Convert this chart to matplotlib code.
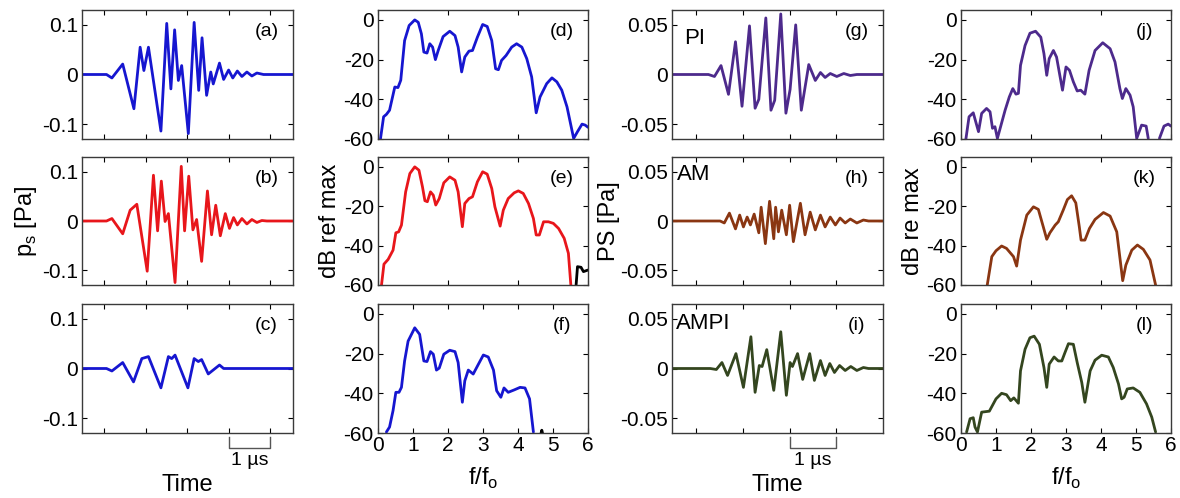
import numpy as np
import matplotlib.pyplot as plt
from matplotlib.transforms import blended_transform_factory

plt.rcParams['font.family'] = ['Liberation Sans', 'DejaVu Sans']
plt.rcParams['mathtext.fontset'] = 'custom'
plt.rcParams['mathtext.rm'] = 'Liberation Sans'

# ---- time traces, left column (p_s, Pa vs time in us) ----
t_a = [-0.53, 0.06, 0.19, 0.45, 0.72, 0.87, 0.96, 1.07, 1.37, 1.51, 1.61, 1.70, 1.79, 1.87, 2.03, 2.17,
       2.28, 2.36, 2.47, 2.57, 2.63, 2.78, 2.88, 3.00, 3.10, 3.21, 3.32, 3.44, 3.56, 3.68, 3.84, 4.55]
p_a = [0, 0, -0.007, 0.021, -0.069, 0.055, 0.008, 0.055, -0.114, 0.103, -0.029, 0.090, -0.012, 0.018, -0.119, 0.105,
       -0.032, 0.074, -0.042, 0.005, -0.019, 0.023, -0.010, 0.009, -0.007, 0.007, -0.004, 0.005, -0.003, 0.003, 0, 0]

t_b = [-0.53, 0.06, 0.19, 0.45, 0.63, 0.79, 1.04, 1.19, 1.29, 1.38, 1.47, 1.55, 1.71, 1.86, 1.94, 2.04, 2.14,
       2.23, 2.35, 2.49, 2.59, 2.69, 2.80, 2.92, 3.02, 3.12, 3.21, 3.32, 3.44, 3.56, 3.68, 3.80, 3.92, 4.55]
p_b = [0, 0, 0.005, -0.026, 0.022, 0.034, -0.102, 0.093, -0.020, 0.081, -0.001, 0.015, -0.125, 0.111, -0.020, 0.091, -0.018,
       0.003, -0.082, 0.061, -0.028, 0.032, -0.030, 0.015, -0.015, 0.007, -0.008, 0.005, -0.006, 0.003, -0.003, 0.001, 0, 0]

t_c = [-0.53, 0.06, 0.19, 0.45, 0.71, 0.91, 1.07, 1.37, 1.55, 1.63, 1.71, 2.02, 2.17, 2.27, 2.35, 2.51, 2.78, 2.88, 4.55]
p_c = [0, 0, -0.005, 0.012, -0.027, 0.020, 0.024, -0.039, 0.024, 0.020, 0.027, -0.039, 0.020, 0.014, 0.018, -0.011, 0.007, 0, 0]

# ---- time traces, third column (PS, Pa) ----
t_g = [-0.52, 0.26, 0.39, 0.53, 0.69, 0.84, 0.98, 1.14, 1.26, 1.34, 1.49, 1.60, 1.68, 1.81, 1.92, 2.01, 2.13,
       2.25, 2.41, 2.55, 2.66, 2.76, 2.87, 3.01, 3.16, 3.30, 3.44, 4.0]
p_g = [0, 0, -0.002, 0.009, -0.020, 0.033, -0.032, 0.049, -0.034, -0.025, 0.057, -0.036, -0.026, 0.061, -0.039, -0.015, 0.050,
       -0.036, 0.010, -0.006, 0.002, -0.003, 0.001, -0.002, 0.001, -0.001, 0, 0]

t_h = [-0.52, 0.51, 0.60, 0.71, 0.84, 0.93, 1.01, 1.09, 1.16, 1.24, 1.34, 1.39, 1.48, 1.57, 1.66, 1.70, 1.76, 1.83,
       1.93, 2.00, 2.08, 2.23, 2.33, 2.44, 2.55, 2.66, 2.76, 2.87, 2.98, 3.08, 3.19, 3.30, 3.44, 3.58, 3.69, 4.0]
p_h = [0, 0, -0.002, 0.008, -0.008, 0.006, -0.006, 0.004, -0.004, 0.007, -0.012, 0.014, -0.023, 0.020, -0.018, 0.014, -0.011, 0.011,
       -0.014, 0.016, -0.021, 0.018, -0.014, 0.009, -0.009, 0.006, -0.006, 0.004, -0.004, 0.003, -0.002, 0.002, -0.002, 0.001, 0, 0]

t_i = [-0.52, 0.30, 0.43, 0.55, 0.67, 0.85, 1.01, 1.17, 1.26, 1.35, 1.41, 1.51, 1.66, 1.81, 1.93, 2.01, 2.06, 2.17,
       2.28, 2.43, 2.53, 2.66, 2.76, 2.86, 2.96, 3.07, 3.19, 3.31, 3.44, 3.58, 3.69, 4.0]
p_i = [0, 0, -0.001, 0.006, -0.007, 0.015, -0.019, 0.032, -0.024, 0.003, 0.002, 0.019, -0.022, 0.037, -0.027, 0.006, 0.002, 0.015,
       -0.011, 0.015, -0.012, 0.008, -0.007, 0.005, -0.004, 0.003, -0.002, 0.002, -0.002, 0.001, 0, 0]

# ---- spectra, second column (dB ref max vs f/fo) ----
f_d = [0.07, 0.16, 0.24, 0.33, 0.48, 0.57, 0.65, 0.76, 0.89, 1.05, 1.15, 1.24, 1.31, 1.40, 1.48, 1.56, 1.64, 1.72,
       1.86, 2.05, 2.20, 2.29, 2.39, 2.48, 2.60, 2.70, 2.84, 2.99, 3.12, 3.25, 3.36, 3.44, 3.53, 3.66, 3.82, 3.96,
       4.11, 4.25, 4.39, 4.52, 4.63, 4.82, 4.97, 5.11, 5.25, 5.40, 5.59, 5.70, 5.83, 5.92, 6.0]
db_d = [-60, -48.8, -47.6, -45.5, -33.8, -34.1, -30.4, -10.4, -2.8, 0, -1.2, -7, -16.2, -16.7, -12, -13.7, -20, -15.4,
        -8.4, -5.7, -7.9, -13.7, -26.2, -18.7, -15.7, -15.4, -8.7, -2.3, -3.3, -10.4, -24.6, -25.1, -20.4, -17.9, -13.7, -12,
        -13.7, -19.5, -28.7, -46.8, -38.8, -32.1, -29.2, -31.2, -35.4, -43.8, -59.7, -56.3, -52.5, -53, -54.1]

f_e = [0.10, 0.17, 0.29, 0.43, 0.51, 0.59, 0.67, 0.79, 0.91, 1.05, 1.17, 1.27, 1.34, 1.41, 1.50, 1.58, 1.65, 1.75,
       1.88, 2.05, 2.20, 2.29, 2.41, 2.48, 2.60, 2.70, 2.84, 2.99, 3.12, 3.25, 3.34, 3.49, 3.58, 3.72, 3.89, 4.01,
       4.15, 4.30, 4.44, 4.52, 4.61, 4.73, 4.87, 5.01, 5.16, 5.32, 5.44, 5.51]
db_e = [-60, -49.4, -47, -42.3, -33.5, -33, -29.6, -12.7, -3.4, 0, -1.7, -10.1, -17.2, -17.7, -12.7, -14.4, -19.4, -16.1,
        -8.1, -5.1, -6.8, -12.7, -30.4, -18.6, -16.1, -15.2, -7.6, -2.5, -3.7, -11, -20.3, -30.1, -22, -16.1, -13.2, -12.2,
        -13.5, -18.6, -26.2, -34.6, -34.6, -27.9, -27.9, -28.7, -31.3, -36.3, -43.9, -60]
f_e_tail = [5.66, 5.70, 5.80, 5.87, 6.0]
db_e_tail = [-60, -50.7, -51, -53.2, -52.4]

f_f = [0.24, 0.33, 0.43, 0.51, 0.60, 0.67, 0.76, 0.86, 1.05, 1.19, 1.31, 1.40, 1.50, 1.58, 1.67, 1.75, 1.88, 2.05,
       2.20, 2.29, 2.41, 2.48, 2.58, 2.72, 2.87, 3.01, 3.15, 3.30, 3.39, 3.51, 3.60, 3.72, 3.89, 4.06, 4.20, 4.33, 4.44]
db_f = [-59.5, -57, -48.7, -39.5, -39.5, -37, -23.7, -13.7, -7, -10.3, -23.7, -24, -19, -20.3, -28.3, -27.3, -20.3, -18.3,
        -19, -24.5, -44.5, -33.7, -28.3, -30.3, -25.3, -20.7, -21.7, -28.3, -38.7, -42, -37.3, -39.5, -38.3, -37, -37.3, -42.8, -59.5]
f_f_tail = [4.66, 4.68, 4.70]
db_f_tail = [-60, -58.6, -60]

# ---- spectra, fourth column (dB re max vs f/fo) ----
f_j = [0.14, 0.23, 0.35, 0.50, 0.59, 0.73, 0.83, 0.90, 0.97, 1.04, 1.26, 1.38, 1.48, 1.57, 1.64, 1.70, 1.83, 1.97,
       2.13, 2.28, 2.37, 2.45, 2.52, 2.64, 2.73, 2.90, 3.00, 3.10, 3.21, 3.32, 3.42, 3.54, 3.66, 3.83, 4.05, 4.26,
       4.40, 4.54, 4.61, 4.71, 4.83, 4.92, 5.02, 5.16, 5.29, 5.35, np.nan, 5.67, 5.80, 5.92, 6.0]
db_j = [-60, -48.8, -46.8, -56.3, -47.1, -44.6, -46.3, -54.6, -53.8, -59.7, -45.5, -38.8, -34.6, -37.4, -37, -22.9, -12.9, -6.7,
        -5.7, -8.7, -17, -27.9, -19.5, -15.4, -18.7, -35.4, -23.7, -25.4, -31.2, -35.8, -35.4, -37.4, -25.4, -15.4, -11.5, -14.5,
        -21.2, -34.6, -39.6, -34.6, -37.9, -43.8, -59.7, -53, -53.5, -59.7, np.nan, -59.7, -53.5, -52.5, -53.5]

f_k = [0.75, 0.88, 1.00, 1.16, 1.30, 1.50, 1.59, 1.70, 1.88, 2.07, 2.21, 2.35, 2.45, 2.54, 2.69, 2.78, 2.92, 3.04,
       3.16, 3.28, 3.38, 3.43, 3.54, 3.67, 3.83, 4.07, 4.26, 4.45, 4.62, 4.71, 4.88, 5.04, 5.21, 5.40, 5.56]
db_k = [-60, -45.6, -42.6, -40.2, -41.4, -45.6, -50.4, -37.2, -24.5, -20.3, -21.6, -30.4, -36.8, -33.5, -29.6, -27.9, -22, -16.6,
        -14.7, -18.3, -30.4, -37.2, -37.2, -31.3, -26.7, -23.2, -25, -33, -57.8, -49.9, -42.3, -39.7, -41.9, -47.3, -60]

f_l = [0.16, 0.26, 0.35, 0.40, 0.47, 0.59, 0.81, 1.00, 1.16, 1.30, 1.42, 1.51, 1.64, 1.70, 1.83, 1.97, 2.09, 2.24,
       2.37, 2.45, 2.52, 2.66, 2.78, 2.88, 2.97, 3.07, 3.21, 3.32, 3.45, 3.54, 3.69, 3.83, 4.02, 4.21, 4.35, 4.50,
       4.59, 4.66, 4.75, 4.92, 5.11, 5.30, 5.45, 5.56]
db_l = [-59.5, -52.8, -52.3, -57, -59.5, -49.5, -49, -42.8, -40, -40.7, -43.7, -42.3, -45, -28.7, -17.8, -12, -11.2, -15.3,
        -27, -37, -25.3, -21.7, -23.7, -23.7, -19.5, -15, -15.3, -24.5, -34.5, -44.5, -28.7, -23.3, -20.8, -21.7, -27, -35.3,
        -42.8, -42, -37.8, -37.3, -39.5, -45.3, -52, -59.5]

panel_tags = ['(a)', '(b)', '(c)', '(d)', '(e)', '(f)', '(g)', '(h)', '(i)', '(j)', '(k)', '(l)']
mode_names = ['PI', 'AM', 'AMPI']

blue = '#1616d0'
red = '#e8161b'
purple = '#4d2a8c'
brown = '#8a3612'
green = '#34461f'
spine_col = '#3a3a3a'

W, H = 1180, 498
fig = plt.figure(figsize=(W / 100, H / 100), dpi=100)

cols = [(82, 293), (378, 588), (672, 883), (961, 1171)]
rows = [(10, 139), (157, 285), (304, 433)]


def make_ax(c, r):
    x0, x1 = cols[c]
    y0, y1 = rows[r]
    ax = fig.add_axes([x0 / W, 1 - y1 / H, (x1 - x0) / W, (y1 - y0) / H])
    ax.tick_params(direction='in', top=True, right=True, length=3.5, width=0.8,
                   labelsize=15, pad=3, colors='black')
    for s in ax.spines.values():
        s.set_color(spine_col)
        s.set_linewidth(1.0)
    ax.text(0.875, 0.83, panel_tags[c * 3 + r], transform=ax.transAxes,
            ha='center', va='center', fontsize=14)
    return ax


def scale_bar(ax, t0, t1):
    tr = blended_transform_factory(ax.transData, ax.transAxes)
    ax.plot([t0, t0, t1, t1], [-0.03, -0.115, -0.115, -0.03], color='#555555', lw=1.0,
            transform=tr, clip_on=False)
    ax.text((t0 + t1) / 2, -0.215, '1 µs', transform=tr, ha='center', va='center', fontsize=14)


lw = 2.0
line_kw = dict(lw=lw, solid_joinstyle='round', solid_capstyle='round')

# column 1
for r, (t, p, col) in enumerate([(t_a, p_a, blue), (t_b, p_b, red), (t_c, p_c, blue)]):
    ax = make_ax(0, r)
    ax.plot(t, p, color=col, **line_kw)
    ax.set_xlim(-0.53, 4.55)
    ax.set_ylim(-0.13, 0.13)
    ax.set_xticks([0, 1, 2, 3, 4])
    ax.set_xticklabels([])
    ax.set_yticks([-0.1, 0, 0.1])
    ax.set_yticklabels(['-0.1', '0', '0.1'])
    if r == 1:
        ax.set_ylabel(r'p$_\mathregular{s}$ [Pa]', fontsize=17, labelpad=2)
    if r == 2:
        scale_bar(ax, 3, 4)
        ax.text(0.5, -0.40, 'Time', transform=ax.transAxes, ha='center', va='center', fontsize=17)

# column 2
spec2 = [(f_d, db_d, blue, None), (f_e, db_e, red, (f_e_tail, db_e_tail)), (f_f, db_f, blue, (f_f_tail, db_f_tail))]
for r, (f, db, col, tail) in enumerate(spec2):
    ax = make_ax(1, r)
    ax.plot(f, db, color=col, **line_kw)
    if tail is not None:
        ax.plot(tail[0], tail[1], color='black', **line_kw)
    ax.set_xlim(0, 6)
    ax.set_ylim(-60, 5)
    ax.set_yticks([-60, -40, -20, 0])
    ax.set_yticklabels(['-60', '-40', '-20', '0'])
    if r < 2:
        ax.set_xticks([0, 2, 4, 6])
        ax.set_xticklabels([])
    else:
        ax.set_xticks(range(7))
        ax.tick_params(axis='x', pad=2)
        ax.text(0.5, -0.35, r'f/f$_\mathregular{o}$', transform=ax.transAxes, ha='center', va='center', fontsize=17)
    if r == 1:
        ax.set_ylabel('dB ref max', fontsize=17, labelpad=2)

# column 3
name_pos = [(0.057, 0.78), (0.024, 0.86), (0.02, 0.85)]
for r, (t, p, col) in enumerate([(t_g, p_g, purple), (t_h, p_h, brown), (t_i, p_i, green)]):
    ax = make_ax(2, r)
    ax.plot(t, p, color=col, **line_kw)
    ax.set_xlim(-0.52, 4.0)
    ax.set_ylim(-0.065, 0.065)
    ax.set_xticks([0, 1, 2, 3])
    ax.set_xticklabels([])
    ax.set_yticks([-0.05, 0, 0.05])
    ax.set_yticklabels(['-0.05', '0', '0.05'])
    ax.text(name_pos[r][0], name_pos[r][1], mode_names[r], transform=ax.transAxes,
            ha='left', va='center', fontsize=16)
    if r == 1:
        ax.set_ylabel('PS [Pa]', fontsize=17, labelpad=0)
    if r == 2:
        scale_bar(ax, 2, 3)
        ax.text(0.5, -0.40, 'Time', transform=ax.transAxes, ha='center', va='center', fontsize=17)

# column 4
for r, (f, db, col) in enumerate([(f_j, db_j, purple), (f_k, db_k, brown), (f_l, db_l, green)]):
    ax = make_ax(3, r)
    ax.plot(f, db, color=col, **line_kw)
    ax.set_xlim(0, 6)
    ax.set_ylim(-60, 5)
    ax.set_yticks([-60, -40, -20, 0])
    ax.set_yticklabels(['-60', '-40', '-20', '0'])
    if r < 2:
        ax.set_xticks([0, 2, 4, 6])
        ax.set_xticklabels([])
    else:
        ax.set_xticks(range(7))
        ax.tick_params(axis='x', pad=2)
        ax.text(0.5, -0.35, r'f/f$_\mathregular{o}$', transform=ax.transAxes, ha='center', va='center', fontsize=17)
    if r == 1:
        ax.set_ylabel('dB re max', fontsize=17, labelpad=2)

fig.savefig('out.png', dpi=100)
